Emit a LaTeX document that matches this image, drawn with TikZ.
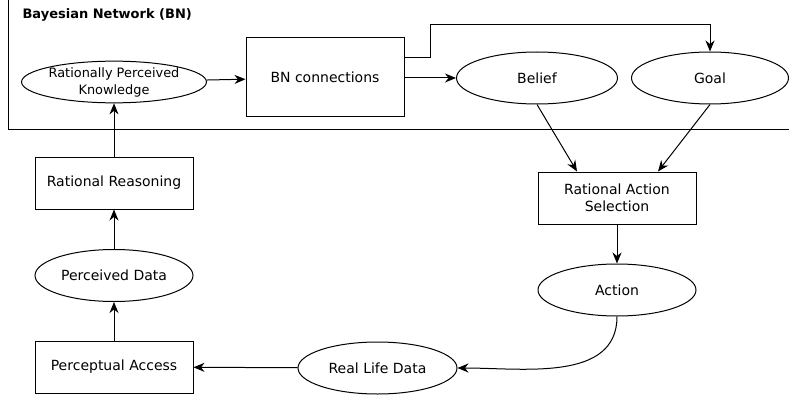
\documentclass[tikz,border=0pt]{standalone}
\usepackage{fontspec}
\setmainfont{DejaVu Sans}
\usetikzlibrary{shapes.geometric,arrows.meta}
\begin{document}
\begin{tikzpicture}[x=1pt,y=-1pt,line width=1pt,
  every node/.style={font=\fontsize{14}{17.5}\selectfont, align=center, inner sep=0pt},
  box/.style={draw, rectangle, minimum width=158pt, minimum height=52pt},
  oval/.style={draw, ellipse, minimum width=158pt, minimum height=52pt},
  link/.style={-{Stealth[length=11pt,width=9pt,inset=3.5pt]}}]
\useasboundingbox (0,0) rectangle (789,401);

% Bayesian network frame (continues past the top and right edges)
\draw (8,0) |- (789,129);
\node[font=\fontsize{13}{15}\selectfont\bfseries, anchor=west] (title) at (22,15) {Bayesian Network (BN)};

% nodes
\node[oval, minimum height=38pt, font=\fontsize{12.9}{17}\selectfont] (rpk) at (114,82) {Rationally Perceived\\Knowledge};
\node[box, minimum height=79pt] (bnc) at (325,77.5) {BN connections};
\node[oval, minimum width=161pt] (belief) at (537,78) {Belief};
\node[oval, minimum width=157pt] (goal) at (710,78) {Goal};
\node[box] (rr) at (114,183) {Rational Reasoning};
\node[oval] (pd) at (114,275.5) {Perceived Data};
\node[box] (pa) at (114,367) {Perceptual Access};
\node[oval, minimum width=159pt] (rld) at (377.5,368) {Real Life Data};
\node[box] (ras) at (617,198) {Rational Action\\Selection};
\node[oval] (act) at (617,290) {Action};

% connectors
\draw[link] (rpk) -- (bnc);
\draw[link] (bnc.east |- belief) -- (belief);
\draw[link] (bnc.east |- 0,58) -| (430,25) -| (goal.north);
\draw[link] (belief.south) -- (ras.north -| 577,0);
\draw[link] (goal.south) -- (ras.north -| 658,0);
\draw[link] (ras) -- (act);
\draw[link] (act.south) to[out=-90,in=0] (rld.east);
\draw[link] (rld) -- (pa);
\draw[link] (pa) -- (pd);
\draw[link] (pd) -- (rr);
\draw[link] (rr) -- (rpk);
\end{tikzpicture}
\end{document}
